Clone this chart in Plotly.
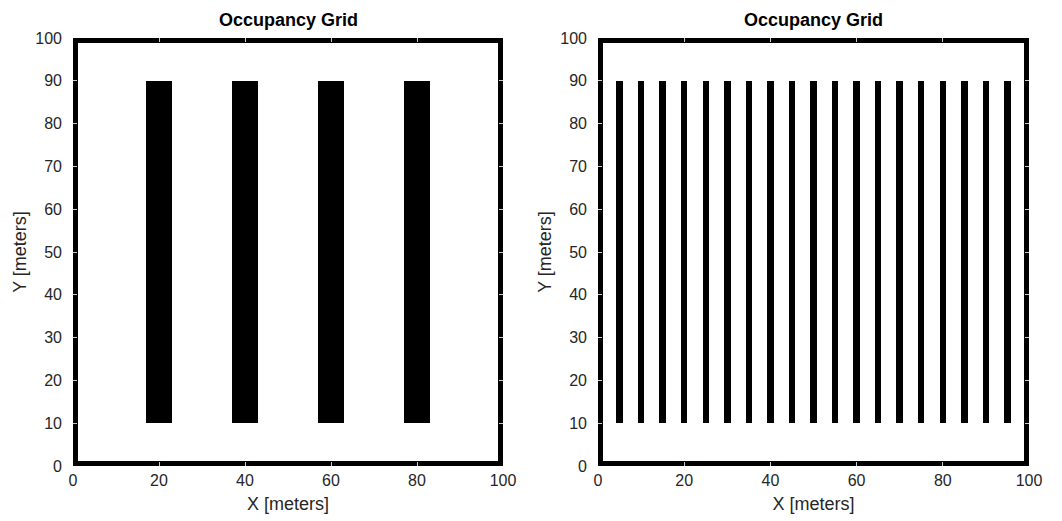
import plotly.graph_objects as go

# ---- data ----
left_bar_centers = [20, 40, 60, 80]
left_bar_width = 6
right_bar_centers = [5, 10, 15, 20, 25, 30, 35, 40, 45, 50, 55, 60, 65, 70, 75, 80, 85, 90, 95]
right_bar_width = 1.5
bar_bottom = 10
bar_top = 90
map_size = 100
wall = 1.2
x_ticks = [0, 20, 40, 60, 80, 100]
y_ticks = [0, 10, 20, 30, 40, 50, 60, 70, 80, 90, 100]
title_text = "Occupancy Grid"

fig = go.Figure()

def add_grid(xa, ya, centers, width):
    # obstacles
    fig.add_trace(go.Bar(
        x=centers, y=[bar_top - bar_bottom] * len(centers), base=bar_bottom,
        width=width, marker=dict(color="black", line=dict(width=0)),
        xaxis=xa, yaxis=ya, showlegend=False, hoverinfo="skip"))
    # boundary walls: bottom, top (horizontal), left, right (vertical)
    fig.add_trace(go.Bar(
        x=[map_size / 2, map_size / 2], y=[wall, wall], base=[0, map_size - wall],
        width=map_size, marker=dict(color="black", line=dict(width=0)),
        xaxis=xa, yaxis=ya, showlegend=False, hoverinfo="skip"))
    fig.add_trace(go.Bar(
        x=[wall / 2, map_size - wall / 2], y=[map_size, map_size], base=[0, 0],
        width=wall, marker=dict(color="black", line=dict(width=0)),
        xaxis=xa, yaxis=ya, showlegend=False, hoverinfo="skip"))

add_grid("x", "y", left_bar_centers, left_bar_width)
add_grid("x2", "y2", right_bar_centers, right_bar_width)

W, H = 1062, 521
OFF = 8  # page body margin offset
font_family = "Liberation Sans, Arial, sans-serif"
tick_font = dict(family=font_family, size=16, color="#262626")
title_font = dict(family=font_family, size=18, color="#262626")

def xaxis(dom, anchor):
    return dict(domain=dom, range=[0, map_size], anchor=anchor, tickvals=x_ticks,
                ticks="inside", ticklen=4, tickcolor="#c8c8c8", mirror="ticks",
                showgrid=False, zeroline=False, showline=False, automargin=False,
                ticklabelstandoff=3,
                tickfont=tick_font, title=dict(text="X [meters]", font=title_font, standoff=9),
                fixedrange=True)

def yaxis(dom, anchor):
    return dict(domain=dom, range=[0, map_size], anchor=anchor, tickvals=y_ticks,
                ticks="inside", ticklen=4, tickcolor="#c8c8c8", mirror="ticks",
                showgrid=False, zeroline=False, showline=False, automargin=False,
                ticklabelstandoff=10,
                tickfont=tick_font, title=dict(text="Y [meters]", font=title_font, standoff=3),
                fixedrange=True)

def px_x(p):
    return (p - OFF) / W

def px_y(p):
    return 1 - (p - OFF) / H

ydom = [px_y(466), px_y(38)]
fig.update_layout(
    width=W, height=H,
    margin=dict(l=0, r=0, t=0, b=0, autoexpand=False),
    paper_bgcolor="white", plot_bgcolor="white",
    barmode="overlay", bargap=0,
    xaxis=xaxis([px_x(73), px_x(503)], "y"),
    yaxis=yaxis(ydom, "x"),
    xaxis2=xaxis([px_x(598), px_x(1029)], "y2"),
    yaxis2=yaxis(ydom, "x2"),
    annotations=[
        dict(text="<b>" + title_text + "</b>", x=px_x((73 + 503) / 2), y=px_y(20),
             xref="paper", yref="paper", xanchor="center", yanchor="middle", showarrow=False,
             font=dict(family=font_family, size=18, color="black")),
        dict(text="<b>" + title_text + "</b>", x=px_x((598 + 1029) / 2), y=px_y(20),
             xref="paper", yref="paper", xanchor="center", yanchor="middle", showarrow=False,
             font=dict(family=font_family, size=18, color="black")),
    ],
)

fig.write_html("out.html")
